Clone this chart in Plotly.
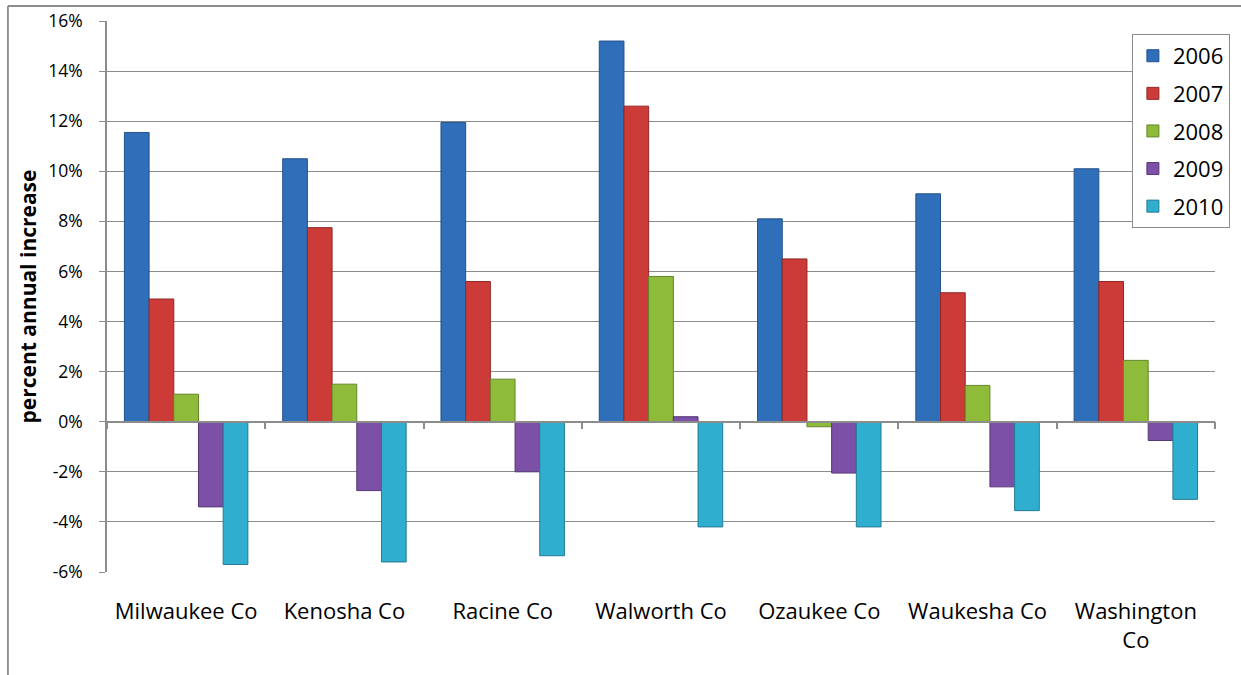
import plotly.graph_objects as go

counties = ["Milwaukee Co", "Kenosha Co", "Racine Co", "Walworth Co",
            "Ozaukee Co", "Waukesha Co", "Washington Co"]
county_labels = ["Milwaukee Co", "Kenosha Co", "Racine Co", "Walworth Co",
                 "Ozaukee Co", "Waukesha Co", "Washington<br>Co"]
years = ["2006", "2007", "2008", "2009", "2010"]

v2006 = [11.55, 10.5, 11.95, 15.2, 8.1, 9.1, 10.1]
v2007 = [4.9, 7.75, 5.6, 12.6, 6.5, 5.15, 5.6]
v2008 = [1.1, 1.5, 1.7, 5.8, -0.2, 1.45, 2.45]
v2009 = [-3.4, -2.75, -2.0, 0.2, -2.05, -2.6, -0.75]
v2010 = [-5.7, -5.6, -5.35, -4.2, -4.2, -3.55, -3.1]
series = [v2006, v2007, v2008, v2009, v2010]

colors = ["#2F6EB9", "#CC3B38", "#8FBB3A", "#7C50A6", "#30AED0"]
edges = ["#23528C", "#8E2826", "#66862A", "#573877", "#227C95"]

ytick_vals = [-6, -4, -2, 0, 2, 4, 6, 8, 10, 12, 14, 16]
ytick_text = [f"{v}%" for v in ytick_vals]

FONT = "Open Sans"
GRID = "#8C8C8C"

fig = go.Figure()
for i, (yr, vals) in enumerate(zip(years, series)):
    fig.add_trace(go.Bar(
        name=yr, x=counties, y=vals,
        marker=dict(color=colors[i], line=dict(color=edges[i], width=1)),
        legendgroup=yr,
    ))

# invisible trace to carry the zero-line axis with boundary ticks
fig.add_trace(go.Scatter(x=counties, y=[None] * len(counties), xaxis="x2",
                         showlegend=False, hoverinfo="skip", mode="markers"))

fig.update_layout(
    width=1241, height=675,
    margin=dict(l=107, r=26, t=21, b=103, autoexpand=False),
    paper_bgcolor="white", plot_bgcolor="white",
    barmode="group", bargap=0.22, bargroupgap=0,
    font=dict(family=FONT, color="black"),
    showlegend=True,
    legend=dict(
        x=0.925, y=0.9765, xanchor="left", yanchor="top",
        bordercolor=GRID, borderwidth=1, bgcolor="white",
        font=dict(size=22, family=FONT, color="black"),
        tracegroupgap=6, traceorder="grouped",
    ),
    xaxis=dict(
        type="category", categoryorder="array", categoryarray=counties,
        tickvals=counties, ticktext=county_labels,
        range=[-0.5, 6.5],
        showgrid=False, showline=False, zeroline=False,
        ticks="", ticklabelstandoff=24,
        tickfont=dict(size=22, family=FONT, color="black"),
    ),
    xaxis2=dict(
        type="category", categoryorder="array", categoryarray=counties,
        overlaying="x", anchor="free", position=6 / 22,
        range=[-0.5, 6.5],
        showticklabels=False, showgrid=False, zeroline=False,
        showline=True, linecolor=GRID, linewidth=1.5,
        ticks="outside", tickson="boundaries", ticklen=7,
        tickcolor=GRID, tickwidth=1.5,
    ),
    yaxis=dict(
        range=[-6, 16], tickvals=ytick_vals, ticktext=ytick_text,
        showgrid=True, gridcolor=GRID, gridwidth=1.3,
        zeroline=False,
        showline=True, linecolor=GRID, linewidth=1.5,
        ticks="outside", ticklen=6, tickcolor=GRID, tickwidth=1.3,
        ticklabelstandoff=13,
        tickfont=dict(size=17.5, family=FONT, color="black"),
        title=dict(text="<b>percent annual increase</b>", standoff=6,
                   font=dict(size=21, family=FONT, color="black")),
    ),
    shapes=[
        dict(type="line", xref="paper", yref="paper",
             x0=-0.0894, x1=1.05, y0=1.0272, y1=1.0272,
             line=dict(color=GRID, width=1.8)),
        dict(type="line", xref="paper", yref="paper",
             x0=-0.0894, x1=-0.0894, y0=1.0272, y1=-0.3,
             line=dict(color=GRID, width=1.8)),
    ],
)

fig.write_html("out.html")
